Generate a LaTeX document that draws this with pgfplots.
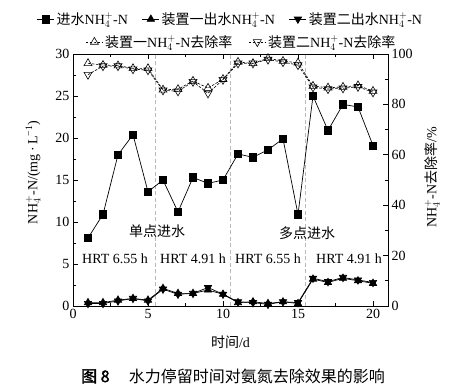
\documentclass[border=0pt]{standalone}
\usepackage{fontspec}
\setmainfont{Liberation Serif}
\newfontfamily\cjk{Noto Sans CJK SC}[AutoFakeBold=2]
\usepackage{pgfplots}
\usepackage{pgfplotstable}
\pgfplotsset{compat=1.18}
\newcommand{\nh}{NH$_4^+$}
\pgfplotstableread{
x inf e1 e2 r1 r2
1 8.1 0.4 0.3 96.3 91.8
2 10.9 0.4 0.3 95.6 95.2
3 18.0 0.7 0.6 95.4 95.2
4 20.4 0.9 0.9 94.3 94.0
5 13.6 0.7 0.6 94.3 93.6
6 15.0 2.1 2.0 85.8 85.6
7 11.2 1.5 1.4 86.0 85.2
8 15.3 1.5 1.5 89.3 89.0
9 14.6 1.9 2.2 86.5 84.4
10 15.0 1.4 1.4 90.0 89.8
11 18.1 0.4 0.5 96.8 96.3
12 17.7 0.5 0.4 96.3 96.3
13 18.6 0.3 0.2 98.3 97.8
14 19.9 0.5 0.5 97.2 96.8
15 10.9 0.3 0.4 96.5 95.6
16 25.0 3.2 3.3 87.3 86.8
17 20.9 2.8 2.9 86.6 86.1
18 24.0 3.3 3.4 86.9 86.4
19 23.7 3.0 3.1 87.5 87.0
20 19.1 2.7 2.8 85.3 84.8
}\data
\begin{document}
\begin{tikzpicture}[font=\fontsize{14}{16}\selectfont]
\begin{axis}[
  at={(73pt,85pt)}, anchor=south west,
  scale only axis, width=315pt, height=252pt,
  xmin=0, xmax=21, ymin=0, ymax=30,
  xtick={0,5,10,15,20}, ytick={0,5,...,30},
  minor x tick num=1, minor y tick num=1,
  tick align=inside, xtick pos=both, ytick pos=left,
  major tick length=5pt, minor tick length=3pt,
  axis line style={line width=0.8pt}, every tick/.style={black, line width=0.6pt},
  /pgf/number format/assume math mode=true,
  tick label style={font=\fontsize{14}{16}\selectfont},
  xlabel={{\cjk 时间}/d},
  xlabel style={at={(axis description cs:0.5,-0.142)}, anchor=center},
  ylabel={\nh-N/(mg\,·\,L\textsuperscript{−1})},
  ylabel style={at={(axis description cs:-0.127,0.53)}, anchor=center},
  legend columns=3,
  legend style={at={(0.5,1)}, anchor=south, yshift=24pt, draw=none, fill=none,
    font=\fontsize{14}{16}\selectfont,
    /tikz/every even column/.append style={column sep=12pt}},
  legend cell align=left,
]
\addplot[gray!55, line width=0.7pt, dash pattern=on 4pt off 2.5pt, forget plot] coordinates {(5.5,0) (5.5,30)};
\addplot[gray!55, line width=0.7pt, dash pattern=on 4pt off 2.5pt, forget plot] coordinates {(10.5,0) (10.5,30)};
\addplot[gray!55, line width=0.7pt, dash pattern=on 4pt off 2.5pt, forget plot] coordinates {(15.5,0) (15.5,30)};
\addplot[black, line width=0.7pt, mark=square*, mark size=3.7pt] table[x=x,y=inf] {\data};
\addlegendentry{{\cjk 进水}\nh-N}
\addplot[black, line width=0.7pt, mark=triangle*, mark size=4.2pt] table[x=x,y=e1] {\data};
\addlegendentry{{\cjk 装置一出水}\nh-N}
\addplot[black, line width=0.7pt, mark=triangle*, mark size=4.2pt, mark options={rotate=180}] table[x=x,y=e2] {\data};
\addlegendentry{{\cjk 装置二出水}\nh-N}
\node at (axis cs:5.6,8.85) {\cjk 单点进水};
\node at (axis cs:15.6,8.7) {\cjk 多点进水};
\node at (axis cs:2.8,5.6) {HRT 6.55 h};
\node at (axis cs:8.0,5.6) {HRT 4.91 h};
\node at (axis cs:13.0,5.6) {HRT 6.55 h};
\node at (axis cs:18.4,5.6) {HRT 4.91 h};
\end{axis}
\begin{axis}[
  at={(73pt,85pt)}, anchor=south west,
  scale only axis, width=315pt, height=252pt,
  xmin=0, xmax=21, ymin=0, ymax=100,
  hide x axis, axis y line*=right,
  ytick={0,20,...,100}, minor y tick num=1,
  tick align=inside,
  major tick length=5pt, minor tick length=3pt,
  axis line style={line width=0.8pt}, every tick/.style={black, line width=0.6pt},
  /pgf/number format/assume math mode=true,
  tick label style={font=\fontsize{14}{16}\selectfont},
  ylabel={\nh-N{\cjk 去除率}/\%},
  ylabel style={at={(axis description cs:1.14,0.51)}, anchor=center},
  legend columns=2,
  legend style={at={(0.5,1)}, anchor=center, yshift=12pt, xshift=11pt, draw=none, fill=none,
    font=\fontsize{14}{16}\selectfont,
    /tikz/every even column/.append style={column sep=14pt}},
  legend cell align=left,
]
\addplot[black, line width=0.6pt, dash pattern=on 2.5pt off 1.5pt, mark=triangle, mark size=4.6pt, mark options={solid, fill=white}] table[x=x,y=r1] {\data};
\addlegendentry{{\cjk 装置一}\nh-N{\cjk 去除率}}
\addplot[black, line width=0.6pt, dash pattern=on 2.5pt off 1.5pt, mark=triangle, mark size=4.6pt, mark options={solid, rotate=180}] table[x=x,y=r2] {\data};
\addlegendentry{{\cjk 装置二}\nh-N{\cjk 去除率}}
\end{axis}
\node at (233pt,15pt) {\cjk\fontsize{16}{18}\selectfont {\bfseries 图 8}\hspace{1.2em}水力停留时间对氨氮去除效果的影响};
\pgfresetboundingbox
\useasboundingbox (0,0) rectangle (469pt,391pt);
\end{tikzpicture}
\end{document}
